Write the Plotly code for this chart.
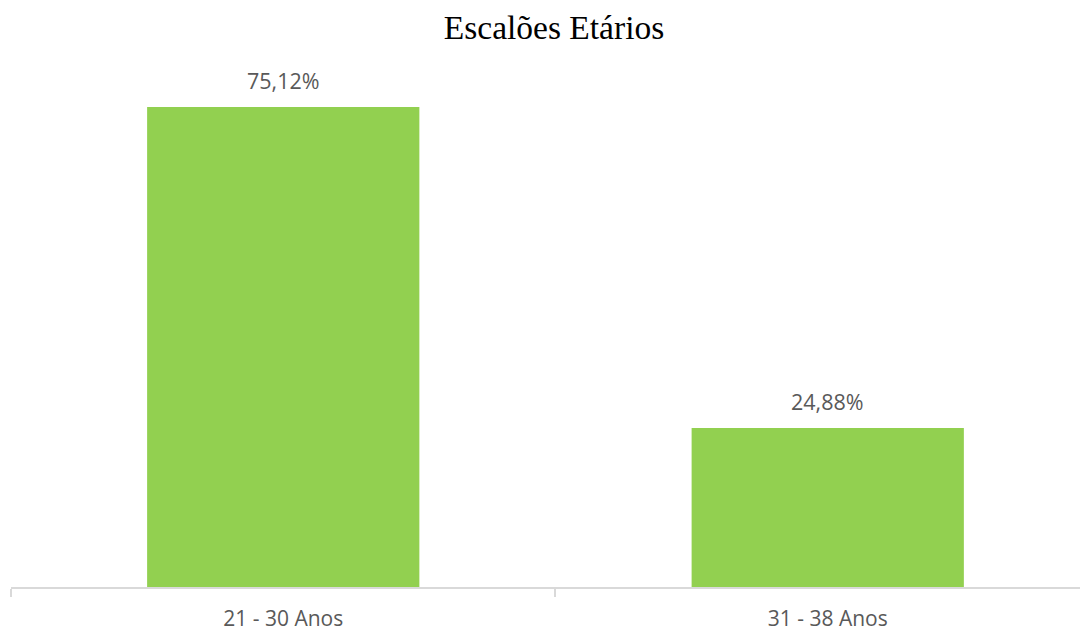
import plotly.graph_objects as go

categories = ["21 - 30 Anos", "31 - 38 Anos"]
values = [75.12, 24.88]
labels = ["75,12%", "24,88%"]

fig = go.Figure()
fig.add_trace(go.Bar(
    x=categories, y=values, width=0.5,
    marker=dict(color="#92D050", line=dict(width=0)),
    hoverinfo="skip",
))

for c, v, t in zip(categories, values, labels):
    fig.add_annotation(x=c, y=v, text=t, showarrow=False, yanchor="bottom",
                       yshift=10, font=dict(family="Open Sans", size=21.5, color="#595959"))

fig.update_layout(
    width=1088, height=630,
    margin=dict(l=3, r=8, t=52, b=51),
    paper_bgcolor="white", plot_bgcolor="white",
    showlegend=False,
    title=dict(text="Escalões Etários", x=546/1088, xanchor="center", y=1 - 19/630, yanchor="middle",
               font=dict(family="Liberation Serif", size=33.5, color="#000000")),
    xaxis=dict(range=[-0.5, 1.478], showline=True, linecolor="#d9d9d9", linewidth=1.5,
               ticks="outside", tickson="boundaries", ticklen=8, tickcolor="#d9d9d9", tickwidth=1.5,
               tickfont=dict(family="Open Sans", size=21, color="#595959"),
               ticklabelstandoff=12, showgrid=False, zeroline=False),
    yaxis=dict(range=[0, 82.47], visible=False, showgrid=False, zeroline=False),
)

fig.write_html("out.html")
